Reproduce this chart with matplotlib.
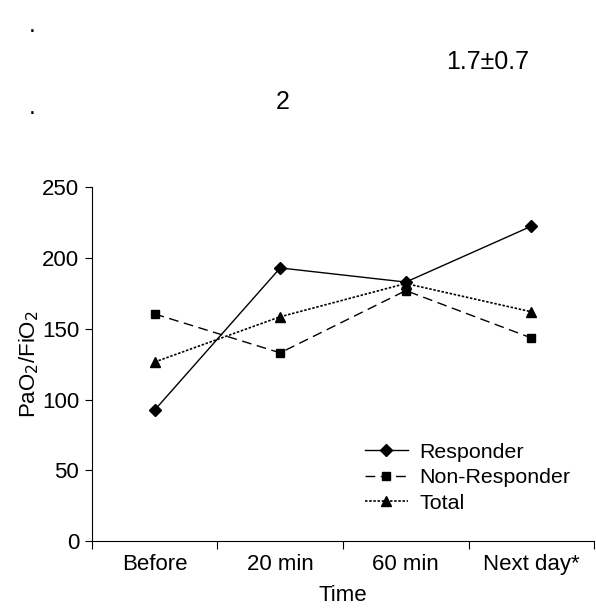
import matplotlib
matplotlib.use('Agg')
import matplotlib.pyplot as plt
import numpy as np

plt.rcParams['font.family'] = ['Liberation Sans', 'DejaVu Sans']

#data
times = ['Before', '20 min', '60 min', 'Next day*']
responder = [92.5, 193, 183, 222.5]
non_responder = [160.5, 133, 177, 143.5]
total = [126.5, 158.5, 182, 162]

fs = 16

fig = plt.figure(figsize=(5.96, 6.10), dpi=100)
ax = fig.add_axes([0.154, 0.113, 0.843, 0.580])

x = np.arange(len(times)) + 0.5

ax.plot(x, responder, color='black', linestyle='-', linewidth=1, marker='D', markersize=6.5, label='Responder')
ax.plot(x, non_responder, color='black', linestyle=(0, (7, 4)), linewidth=1, marker='s', markersize=6, label='Non-Responder')
ax.plot(x, total, color='black', linestyle=(0, (1.5, 1)), linewidth=1.2, marker='^', markersize=7.5, label='Total')

ax.set_xlim(0, len(times))
ax.set_ylim(0, 250)
ax.set_yticks([0, 50, 100, 150, 200, 250])
ax.set_xticks(np.arange(len(times) + 1))
ax.set_xticklabels([])
ax.set_xticks(x, minor=True)
ax.set_xticklabels(times, minor=True)
for lab in ax.get_xticklabels(minor=True):
    lab.set_verticalalignment('baseline')
ax.tick_params(axis='x', which='minor', length=0, pad=21, labelsize=fs)
ax.tick_params(axis='x', which='major', length=6, direction='out')
ax.tick_params(axis='y', length=5, labelsize=fs, pad=4)

ax.spines['top'].set_visible(False)
ax.spines['right'].set_visible(False)

ax.set_ylabel('PaO$_2$/FiO$_2$', fontsize=fs, labelpad=1)
ax.set_xlabel('Time', fontsize=fs, labelpad=7)

ax.legend(loc='lower left', bbox_to_anchor=(0.522, 0.05), frameon=False, fontsize=15.4,
          handlelength=2.0, handletextpad=0.55, labelspacing=0.3, borderpad=0)

#text fragments above the chart
fig.text(32 / 596, 1 - 32 / 610, '.', fontsize=18, ha='center', va='baseline')
fig.text(488 / 596, 1 - 62 / 610, '1.7\u00b10.7', fontsize=18, ha='center', va='center')
fig.text(32 / 596, 1 - 114 / 610, '.', fontsize=18, ha='center', va='baseline')
fig.text(283 / 596, 1 - 102 / 610, '2', fontsize=18, ha='center', va='center')

fig.savefig('out.png', dpi=100)
